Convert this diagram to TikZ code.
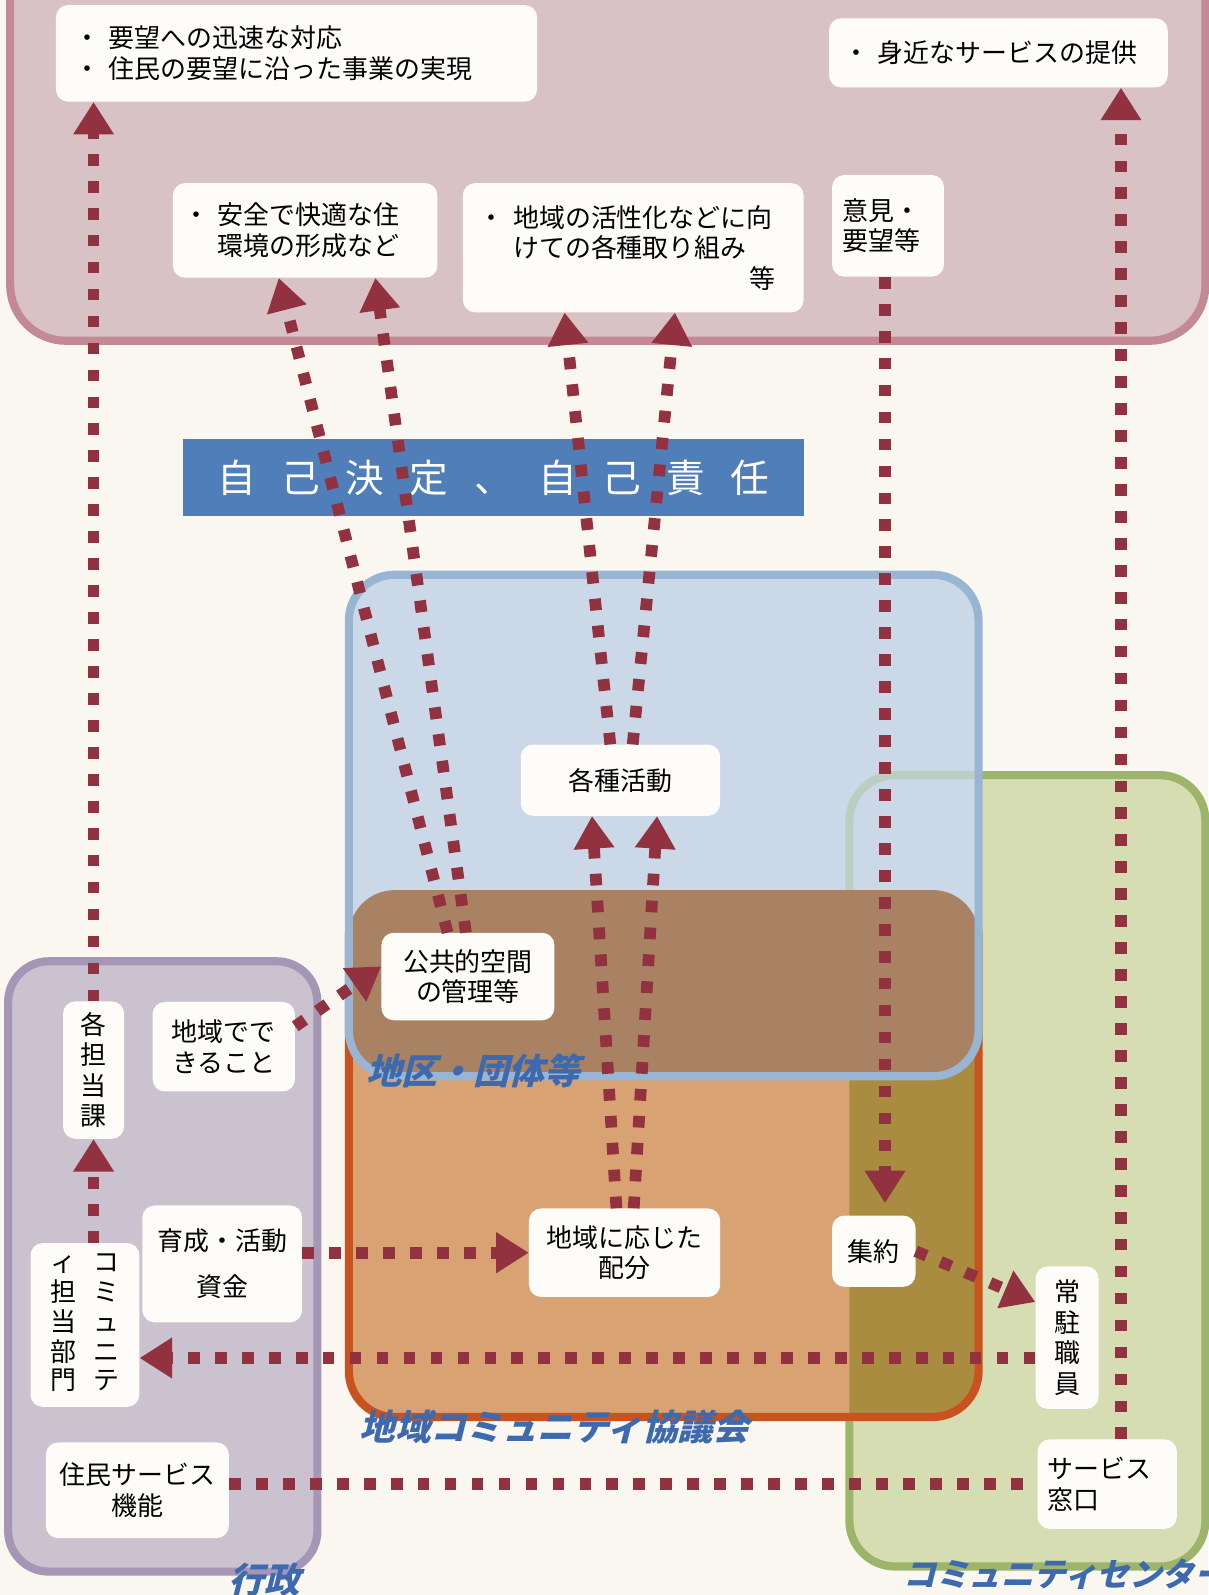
\documentclass[tikz,border=0pt]{standalone}
\usepackage{fontspec}
\setmainfont{Noto Sans CJK JP}
\newfontfamily\lblfont{Noto Sans CJK JP}[FakeSlant=0.25]
\usetikzlibrary{arrows.meta}
\definecolor{bgc}{HTML}{FAF7F1}
\definecolor{pinkf}{HTML}{D8C2C5}
\definecolor{pinkb}{HTML}{C38A95}
\definecolor{bluef}{HTML}{CAD8E7}
\definecolor{blueb}{HTML}{98B5D4}
\definecolor{brownf}{HTML}{A88262}
\definecolor{orangef}{HTML}{D9A273}
\definecolor{orangeb}{HTML}{C9521E}
\definecolor{olivef}{HTML}{A98C3F}
\definecolor{greenf}{HTML}{D6DDB2}
\definecolor{greenb}{HTML}{9DB56B}
\definecolor{purpf}{HTML}{CAC2CF}
\definecolor{purpb}{HTML}{A596B6}
\definecolor{bannerc}{HTML}{4F7EB8}
\definecolor{arc}{HTML}{923240}
\definecolor{boxw}{HTML}{FEFCF8}
\definecolor{lblc}{HTML}{3D69AE}
\begin{document}
\begin{tikzpicture}[x=1pt,y=-1pt,
  wbox/.style={fill=boxw, rounded corners=12pt, inner sep=0pt, font=\fontsize{25.5}{30}\selectfont, text=black},
  arr/.style={draw=arc, line width=11.5pt, dash pattern=on 11.5pt off 15pt, -{Triangle[width=38pt,length=32pt]}},
  lnk/.style={draw=arc, line width=11.5pt, dash pattern=on 11.5pt off 15pt},
  grp/.style={line width=8pt, rounded corners=45pt},
  lbl/.style={font=\lblfont\bfseries\fontsize{35}{35}\selectfont, text=lblc, inner sep=0pt}
]
\useasboundingbox (0,0) rectangle (1187.6,1568);
\fill[bgc] (0,0) rectangle (1187.6,1568);

% top pink area
\path[grp, rounded corners=55pt, fill=pinkf, draw=pinkb] (10,-80) rectangle (1185,335);

% green (community center)
\path[grp, fill=greenf, draw=greenb] (835,762) rectangle (1185,1540);
% orange (council)
\fill[orangef, rounded corners=45pt] (343,875) rectangle (962,1393);
\begin{scope}
  \clip[rounded corners=45pt] (835,762) rectangle (1185,1540);
  \fill[olivef, rounded corners=45pt] (343,875) rectangle (962,1393);
\end{scope}
\draw[grp, draw=orangeb] (343,875) rectangle (962,1393);
% blue (districts)
\fill[bluef, rounded corners=45pt] (343,565) rectangle (962,1058);
\begin{scope}
  \clip[rounded corners=45pt] (343,875) rectangle (962,1393);
  \fill[brownf, rounded corners=45pt] (343,565) rectangle (962,1058);
\end{scope}
\begin{scope}
  \clip[rounded corners=45pt] (343,565) rectangle (962,875);
  \draw[grp, draw=greenb, opacity=0.3] (835,762) rectangle (1185,1540);
\end{scope}
\draw[grp, draw=blueb] (343,565) rectangle (962,1058);

% purple (administration)
\path[grp, rounded corners=40pt, fill=purpf, draw=purpb] (8,945) rectangle (312,1545);

% banner
\node[fill=bannerc, minimum width=610pt, minimum height=75pt, inner sep=0pt, text=white, font=\fontsize{38}{38}\selectfont] (banner) at (485,469.5)
  {自\hspace{25pt}己\hspace{25pt}決\hspace{25pt}定\hspace{25pt}、\hspace{25pt}自\hspace{25pt}己\hspace{25pt}責\hspace{25pt}任};

% white boxes
\node[wbox, minimum width=473pt, minimum height=95pt, text width=437pt, align=left] (t1) at (291.5,52.5)
  {・ 要望への迅速な対応\\・ 住民の要望に沿った事業の実現};
\node[wbox, minimum width=333pt, minimum height=68pt, text width=305pt, align=left] (t2) at (981.5,52)
  {・ 身近なサービスの提供};
\node[wbox, minimum width=260pt, minimum height=93pt, text width=240pt, align=left] (t3) at (300,226.5)
  {・ 安全で快適な住\\\phantom{・ }環境の形成など};
\node[wbox, minimum width=335pt, minimum height=127pt, text width=304pt, align=left] (t4) at (622.5,243.5)
  {・ 地域の活性化などに向\\\phantom{・ }けての各種取り組み\\\hspace*{\fill}等\hspace*{12pt}};
\node[wbox, minimum width=110pt, minimum height=100pt, text width=90pt, align=left] (t5) at (873,222)
  {意見・\\要望等};
\node[wbox, minimum width=196pt, minimum height=70pt] (act) at (610,767) {各種活動};
\node[wbox, minimum width=170pt, minimum height=86pt, align=center] (pub) at (460,960) {公共的空間\\の管理等};
\node[wbox, minimum width=140pt, minimum height=88pt, align=center] (can) at (220,1029) {地域でで\\きること};
\node[wbox, minimum width=60pt, minimum height=135pt, align=center] (kaka) at (92,1052) {各\\担\\当\\課};
\node[wbox, minimum width=157pt, minimum height=115pt, align=center, font=\fontsize{25.5}{45}\selectfont] (fund) at (218.5,1242.5) {育成・活動\\資金};
\node[wbox, minimum width=107pt, minimum height=161pt, font=\fontsize{25.5}{27}\selectfont] (comm) at (83.5,1302.5)
  {\begin{tabular}{@{}c@{\hspace{16pt}}c@{}}ィ&コ\\担&ミ\\当&ュ\\部&ニ\\門&テ\end{tabular}};
\node[wbox, minimum width=180pt, minimum height=94pt, align=center] (jumin) at (135,1465) {住民サービス\\機能};
\node[wbox, minimum width=188pt, minimum height=87pt, align=center] (haibun) at (614,1231.5) {地域に応じた\\配分};
\node[wbox, minimum width=82pt, minimum height=70pt] (shuyaku) at (859,1230) {集約};
\node[wbox, minimum width=62pt, minimum height=140pt, align=center] (joch) at (1049,1315) {常\\駐\\職\\員};
\node[wbox, minimum width=137pt, minimum height=88pt, text width=117pt, align=left] (mado) at (1088.5,1459) {サービス\\窓口};

% connectors
\draw[arr] (kaka.north) -- (kaka.north |- t1.south);
\draw[arr] (kaka.south |- comm.north) -- (kaka.south);
\draw[arr] (fund.east |- haibun.west) -- (haibun.west);
\draw[arr] ([yshift=-20pt]joch.west) -- ([yshift=-20pt]joch.west -| comm.east);
\draw[lnk] (jumin.east |- mado.west) -- (mado.west);
\draw[arr] ([xshift=13.5pt]mado.north) -- ([xshift=13.5pt]mado.north |- t2.south);
\draw[arr, shorten >=12pt] ([xshift=-3pt]t5.south) -- ([xshift=-3pt]t5.south |- shuyaku.north);
\draw[arr] (shuyaku.east) -- ([yshift=35pt]joch.west);
\draw[arr] ([yshift=20pt]can.east) -- ([yshift=10pt]pub.west);
\draw[arr] ([xshift=-20pt]pub.north) -- ([xshift=-26pt]t3.south);
\draw[arr] ([xshift=-2pt]pub.north) -- ([xshift=69pt]t3.south);
\draw[arr] ([xshift=-10pt]act.north) -- ([xshift=-67.5pt]t4.south);
\draw[arr] ([xshift=12pt]act.north) -- ([xshift=41pt]t4.south);
\draw[arr] ([xshift=-8pt]haibun.north) -- ([xshift=-28pt]act.south);
\draw[arr] ([xshift=9pt]haibun.north) -- ([xshift=36pt]act.south);

% group labels
\node[lbl] (lb1) at (465,1053) {地区・団体等};
\node[lbl] (lb2) at (545,1403) {地域コミュニティ協議会};
\node[lbl] (lb3) at (260,1553) {行政};
\node[lbl, anchor=west, font=\lblfont\bfseries\fontsize{32}{32}\selectfont] (lb4) at (888,1548) {コミュニティセンター};
\end{tikzpicture}
\end{document}
